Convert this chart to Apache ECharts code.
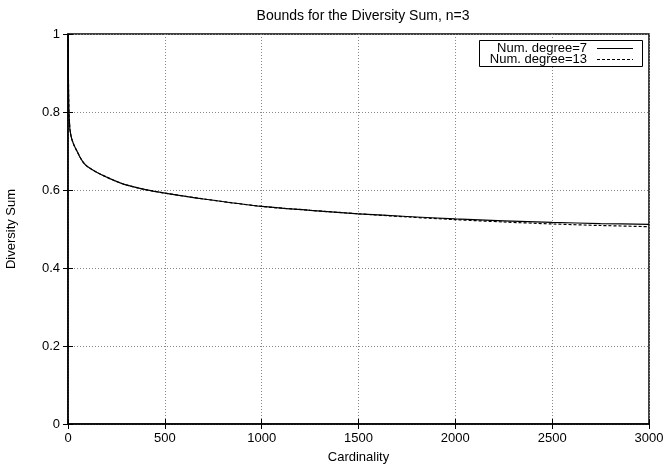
<!DOCTYPE html>
<html>
<head>
<meta charset="utf-8">
<script src="https://cdn.jsdelivr.net/npm/echarts@6/dist/echarts.min.js"></script>
<style>html,body{margin:0;padding:0;background:#fff}#c{width:666px;height:470px}</style>
</head>
<body>
<div id="c"></div>
<script>
var titleText = 'Bounds for the Diversity Sum, n=3';
var xName = 'Cardinality';
var yName = 'Diversity Sum';
var seriesNames = ['Num. degree=7', 'Num. degree=13'];
var cardinality = [1, 2, 3, 5, 8, 10, 15, 20, 30, 40, 50, 60, 80, 100, 150, 200, 250, 300, 400, 500, 700, 1000, 1250, 1500, 1750, 2000, 2250, 2500, 2750, 3000];
var degree7 = [1.0, 0.90, 0.85, 0.80, 0.77, 0.755, 0.74, 0.73, 0.716, 0.706, 0.696, 0.686, 0.670, 0.660, 0.645, 0.633, 0.622, 0.613, 0.601, 0.592, 0.577, 0.558, 0.548, 0.539, 0.532, 0.526, 0.521, 0.517, 0.514, 0.512];
var degree13 = [1.0, 0.90, 0.85, 0.80, 0.77, 0.755, 0.74, 0.73, 0.716, 0.706, 0.696, 0.686, 0.670, 0.660, 0.645, 0.633, 0.622, 0.613, 0.601, 0.592, 0.577, 0.558, 0.548, 0.539, 0.531, 0.524, 0.518, 0.513, 0.509, 0.506];

function pairs(xs, ys) { return xs.map(function (x, i) { return [x, ys[i]]; }); }

var font = 'Liberation Sans, Arial, Helvetica, sans-serif';
var fs = 13;
var chart = echarts.init(document.getElementById('c'), null, {renderer: 'canvas'});
var gridLine = {show: true, lineStyle: {color: '#888', type: [1, 2], width: 1}};
var tick = {show: true, inside: true, length: 5, lineStyle: {color: '#000'}};
chart.setOption({
  animation: false,
  backgroundColor: '#fff',
  textStyle: {fontFamily: font},
  title: {text: titleText, left: 358, top: 4, textAlign: 'center',
    textStyle: {fontSize: 14, fontWeight: 'normal', color: '#000', fontFamily: font}},
  grid: {left: 68, right: 17, top: 34, bottom: 46, containLabel: false, outerBoundsMode: 'none',
    show: true, borderColor: '#000', borderWidth: 1.5, backgroundColor: 'transparent'},
  xAxis: [{
    type: 'value', min: 0, max: 3000, interval: 500,
    name: xName, nameLocation: 'middle', nameGap: 27,
    nameTextStyle: {fontSize: fs, color: '#000', fontFamily: font},
    axisLine: {show: true, lineStyle: {color: '#000', width: 1.5}},
    axisTick: tick,
    axisLabel: {fontSize: fs, color: '#000', margin: 8, fontFamily: font,
      formatter: function (v) { return String(v); }},
    splitLine: gridLine
  }, {
    type: 'value', min: 0, max: 3000, interval: 500, position: 'top',
    axisLine: {show: false}, axisLabel: {show: false}, splitLine: {show: false},
    axisTick: tick
  }],
  yAxis: [{
    type: 'value', min: 0, max: 1, interval: 0.2,
    name: yName, nameLocation: 'middle', nameGap: 50, nameRotate: 90,
    nameTextStyle: {fontSize: fs, color: '#000', fontFamily: font},
    axisLine: {show: true, lineStyle: {color: '#000', width: 1.5}},
    axisTick: tick,
    axisLabel: {fontSize: fs, color: '#000', margin: 8, fontFamily: font},
    splitLine: gridLine
  }, {
    type: 'value', min: 0, max: 1, interval: 0.2, position: 'right',
    axisLine: {show: false}, axisLabel: {show: false}, splitLine: {show: false},
    axisTick: tick
  }],
  graphic: [
    {type: 'rect', z: 100, shape: {x: 479.5, y: 40.5, width: 163, height: 26},
      style: {fill: '#fff', stroke: '#000', lineWidth: 1}},
    {type: 'text', z: 101, x: 587, y: 48.5,
      style: {text: seriesNames[0], align: 'right', verticalAlign: 'middle', fill: '#000', font: fs + 'px ' + font}},
    {type: 'text', z: 101, x: 587, y: 59.5,
      style: {text: seriesNames[1], align: 'right', verticalAlign: 'middle', fill: '#000', font: fs + 'px ' + font}},
    {type: 'line', z: 101, shape: {x1: 597, y1: 48.5, x2: 633, y2: 48.5},
      style: {stroke: '#000', lineWidth: 1}},
    {type: 'line', z: 101, shape: {x1: 597, y1: 59.5, x2: 633, y2: 59.5},
      style: {stroke: '#000', lineWidth: 1, lineDash: [3, 2]}}
  ],
  series: [{
    name: seriesNames[0], type: 'line', smooth: 0.3, symbol: 'none', showSymbol: false,
    data: pairs(cardinality, degree7), z: 3,
    lineStyle: {color: '#000', width: 1.2, type: 'solid'}, itemStyle: {color: '#000'}
  }, {
    name: seriesNames[1], type: 'line', smooth: 0.3, symbol: 'none', showSymbol: false,
    data: pairs(cardinality, degree13), z: 2,
    lineStyle: {color: '#000', width: 1.2, type: [3, 2]}, itemStyle: {color: '#000'}
  }]
});
</script>
</body>
</html>
